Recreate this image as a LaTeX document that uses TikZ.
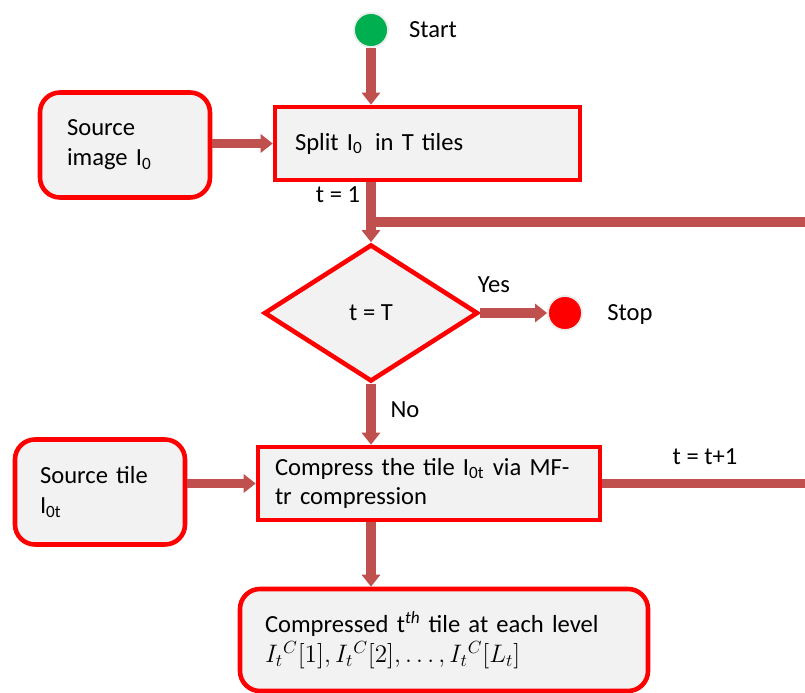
\documentclass[tikz,border=0pt]{standalone}
\usepackage{fontspec}
\setmainfont{Carlito}
\usetikzlibrary{positioning, shapes.geometric, arrows.meta}
\definecolor{flowred}{HTML}{C0504D}
\definecolor{boxfill}{HTML}{F2F2F2}
\definecolor{startgreen}{HTML}{00B050}

\begin{document}
\begin{tikzpicture}[every node/.style={font=\fontsize{14}{17}\selectfont},
    stepbox/.style={draw=red, line width=2.6pt, fill=boxfill, rectangle, align=left, minimum height=1.46cm},
    srcbox/.style={stepbox, rounded corners=0.4cm},
    flow/.style={draw=flowred, line width=5.4pt, -{Triangle[length=0.24cm, width=0.36cm]}},
    link/.style={draw=flowred, line width=5.4pt}]
        \useasboundingbox (0,0) rectangle (16.1,-13.86);

        \node[circle, fill=startgreen, draw=black!8, line width=1pt, minimum size=0.68cm] (start) at (7.42,-0.6) {};
        \node (startlbl) at (8.66,-0.6) {Start};

        \node[stepbox, inner xsep=0.4cm, text width=5.3cm] (split) at (8.55,-2.87) {Split I\textsubscript{0}\, in T tiles};
        \node[srcbox, inner xsep=0.54cm, text width=2.32cm, minimum height=2.1cm] (srcimg) at (2.5,-2.9) {Source\\image I\textsubscript{0}};
        \node (tone) at (6.76,-3.9) {t = 1};

        \node[diamond, draw=red, line width=2.6pt, fill=boxfill, aspect=1.56, minimum width=4.28cm, minimum height=2.74cm, inner sep=0pt] (test) at (7.42,-6.26) {t = T};
        \node[circle, fill=red, draw=black!8, line width=1pt, minimum size=0.68cm] (stop) at (11.3,-6.26) {};
        \node (stoplbl) at (12.6,-6.3) {Stop};
        \node (yes) at (9.88,-5.7) {Yes};
        \node (no) at (8.1,-8.2) {No};

        \node[stepbox, inner xsep=0.34cm, text width=6.16cm] (compress) at (8.58,-9.67) {Compress the tile I\textsubscript{0t} via MF-\\tr compression};
        \node[srcbox, inner xsep=0.5cm, text width=2.4cm, minimum height=2.1cm] (srctile) at (2.0,-9.84) {Source tile\\I\textsubscript{0t}};
        \node (tnext) at (14.1,-9.14) {t = t+1};

        \node[srcbox, inner xsep=0.5cm, text width=7.16cm, minimum height=2.04cm] (output) at (8.88,-12.8) {Compressed t\textsuperscript{\textit{th}} tile at each level\\$I_t{}^C[1], I_t{}^C[2], \dots, I_t{}^C[L_t]$};

        \coordinate (loopin) at (16.1,-4.44);
        \coordinate (loopout) at (16.1,-9.67);

        \draw[flow] (start) -- (start |- split.north);
        \draw[flow] (srcimg.east |- split.west) -- (split.west);
        \draw[flow] (test |- split.south) -- (test.north);
        \draw[link] (loopin) -- (loopin -| test);
        \draw[flow] (test.east) -- (stop.west);
        \draw[flow] (test.south) -- (test |- compress.north);
        \draw[flow] (srctile.east |- compress.west) -- (compress.west);
        \draw[link] (compress.east) -- (loopout);
        \draw[flow] (test |- compress.south) -- (test |- output.north);
    \end{tikzpicture}
\end{document}
